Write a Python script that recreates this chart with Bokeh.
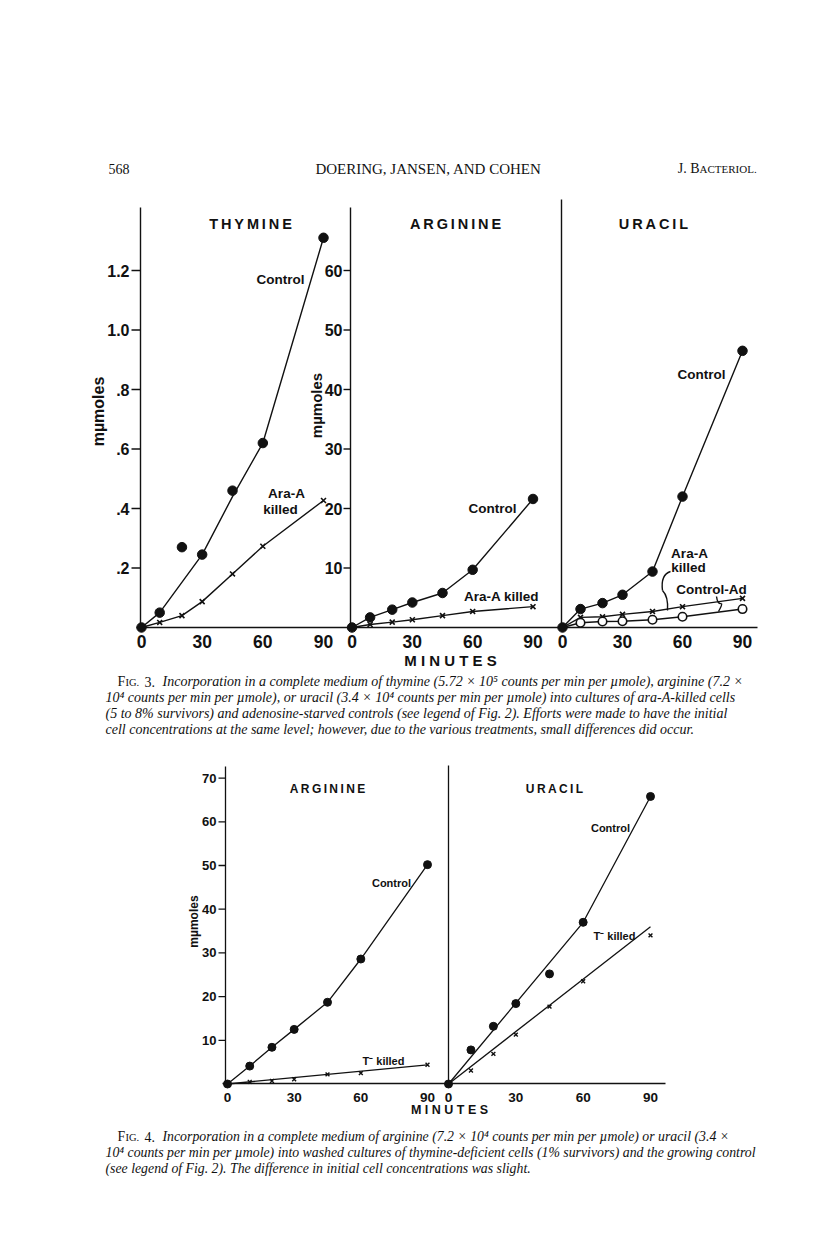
import math
from bokeh.plotting import figure
from bokeh.models import Range1d
from bokeh.embed import file_html
from bokeh.resources import INLINE
from bokeh.core.properties import value

# ---------------- data (read from the scanned page) ----------------
minutes_f3 = [0, 9, 20, 30, 45, 60, 90]
minutes_f4 = [0, 10, 20, 30, 45, 60, 90]

# Fig. 3 - THYMINE (mumoles)
thy_control = [0, 0.05, 0.27, 0.245, 0.46, 0.62, 1.31]
thy_control_curve_t = [0, 9, 30, 45, 60, 90]
thy_control_curve = [0, 0.05, 0.245, 0.44, 0.62, 1.31]
thy_killed = [0, 0.017, 0.04, 0.087, 0.18, 0.273, 0.427]

# Fig. 3 - ARGININE (mumoles)
arg3_control = [0, 1.7, 3.0, 4.2, 5.8, 9.7, 21.6]
arg3_killed = [0, 0.5, 0.9, 1.3, 2.0, 2.7, 3.5]

# Fig. 3 - URACIL (mumoles)
ura3_control = [0, 3.1, 4.1, 5.5, 9.4, 22.0, 46.5]
ura3_killed = [0, 1.7, 1.8, 2.2, 2.7, 3.5, 4.9]
ura3_control_ad = [0, 0.8, 1.0, 1.05, 1.3, 1.8, 3.1]

# Fig. 4 - ARGININE
arg4_control = [0, 4.1, 8.4, 12.5, 18.7, 28.6, 50.2]
arg4_killed = [0, 0.5, 0.7, 1.1, 2.2, 2.5, 4.4]
arg4_killed_line_t = [0, 90]
arg4_killed_line = [0, 4.4]

# Fig. 4 - URACIL
ura4_control = [0, 7.8, 13.2, 18.4, 25.2, 37.0, 65.8]
ura4_control_line_t = [0, 60, 90]
ura4_control_line = [0, 37.0, 65.8]
ura4_killed = [0, 3.1, 6.9, 11.3, 17.7, 23.5, 34.0]
ura4_killed_line_t = [0, 90]
ura4_killed_line = [0, 36.0]

# ticks
minute_ticks = [0, 30, 60, 90]
minute_labels = ["0", "30", "60", "90"]
thy_ticks = [0.2, 0.4, 0.6, 0.8, 1.0, 1.2]
thy_labels = [".2", ".4", ".6", ".8", "1.0", "1.2"]
arg3_ticks = [10, 20, 30, 40, 50, 60]
arg3_labels = ["10", "20", "30", "40", "50", "60"]
f4_ticks = [10, 20, 30, 40, 50, 60, 70]
f4_labels = ["10", "20", "30", "40", "50", "60", "70"]

# ---------------- page figure ----------------
W, H = 800, 1240
OFF = 0
p = figure(width=W, height=H, x_range=Range1d(OFF, OFF + W), y_range=Range1d(OFF + H, OFF),
           output_backend="svg", toolbar_location=None, min_border=0,
           x_axis_location=None, y_axis_location=None)
p.grid.visible = False
p.outline_line_color = None
p.background_fill_color = "white"


def xr(x0, sx):
    return Range1d((OFF - x0) / sx, (OFF + W - x0) / sx)


def yr(y0, sy):
    return Range1d((y0 - (OFF + H)) / sy, (y0 - OFF) / sy)


panels = {
    "f3a": (141, 182 / 90, 627, 297.5),
    "f3b": (351.5, 181 / 90, 627, 5.95),
    "f3c": (562, 2.0, 627, 5.95),
    "f4a": (227, 200 / 90, 1083.5, 4.37),
    "f4b": (448, 202 / 90, 1083.5, 4.37),
}
for k, (x0, sx, y0, sy) in panels.items():
    p.extra_x_ranges[k + "_x"] = xr(x0, sx)
    p.extra_y_ranges[k + "_y"] = yr(y0, sy)

SANS = value("Liberation Sans")
SERIF = value("Liberation Serif")
INK = "#111111"


def txt(x, y, s, size, font=SANS, style="bold", align="center", baseline="middle",
        angle=0.0, xname="default", yname="default"):
    xs = x if isinstance(x, list) else [x]
    ys = y if isinstance(y, list) else [y] * len(xs)
    ss = s if isinstance(s, list) else [s] * len(xs)
    if len(xs) == 1 and len(ys) > 1:
        xs = xs * len(ys)
    p.text(x=xs, y=ys, text=ss, text_font=font, text_font_style=style,
           text_font_size=value(f"{size}px"), text_align=align, text_baseline=baseline,
           text_color=INK, angle=angle, x_range_name=xname, y_range_name=yname)


def spaced(s, sep="\u2009"):
    return sep.join(s)


# ---------------- header ----------------
txt(108, 168, "568", 14, font=SERIF, style="normal", align="left")
txt(428, 168, "DOERING, JANSEN, AND COHEN", 15, font=SERIF, style="normal")
txt(699, 168, "J. B", 14, font=SERIF, style="normal", align="right")
txt(699, 168.5, "ACTERIOL.", 11, font=SERIF, style="normal", align="left")

# ---------------- Fig. 3 axes ----------------
p.segment(x0=[136, 140, 350, 561], y0=[627, 207, 207, 199],
          x1=[757, 140, 350, 561], y1=[627, 627, 627, 627], line_color=INK, line_width=1.4)
p.segment(x0=[131] * 6, x1=[140] * 6, y0=thy_ticks, y1=thy_ticks, line_color=INK,
          line_width=1.4, y_range_name="f3a_y")
p.segment(x0=[343] * 6, x1=[350] * 6, y0=arg3_ticks, y1=arg3_ticks, line_color=INK,
          line_width=1.4, y_range_name="f3b_y")
txt(129, thy_ticks, thy_labels, 16, align="right", yname="f3a_y")
txt(342, arg3_ticks, arg3_labels, 16, align="right", yname="f3b_y")
for k in ("f3a", "f3b", "f3c"):
    txt(minute_ticks, 641, minute_labels, 17.5, xname=k + "_x")
txt(450, 660, spaced("MINUTES", " "), 15)
txt(98, 411, "mµmoles", 16, angle=math.pi / 2)
txt(316, 405, "mµmoles", 15, angle=math.pi / 2)

txt(250, 223, spaced("THYMINE"), 14.5)
txt(455, 223, spaced("ARGININE"), 14.5)
txt(653, 223, spaced("URACIL"), 14.5)


def series(t, v, k, marker, size, lw=1.4, fill=INK, line=True, mlw=1.6):
    xn, yn = k + "_x", k + "_y"
    if line:
        p.line(t, v, line_color=INK, line_width=lw, x_range_name=xn, y_range_name=yn)
    if marker is not None:
        p.scatter(t, v, marker=marker, size=size, fill_color=fill, line_color=INK,
                  line_width=mlw, x_range_name=xn, y_range_name=yn)


# Thymine
series(minutes_f3, thy_killed, "f3a", "x", 7)
series(thy_control_curve_t, thy_control_curve, "f3a", None, 0)
series(minutes_f3, thy_control, "f3a", "circle", 9.5, line=False, mlw=1)
txt(280, 279, "Control", 13.5)
txt(286, 493, "Ara-A", 13.5)
txt(280, 509, "killed", 13.5)

# Arginine
series(minutes_f3, arg3_killed, "f3b", "x", 7)
series(minutes_f3, arg3_control, "f3b", "circle", 9.5, mlw=1)
txt(492, 508, "Control", 13.5)
txt(501, 596, "Ara-A killed", 13.5)

# Uracil
series(minutes_f3, ura3_killed, "f3c", "x", 7)
series(minutes_f3, ura3_control_ad, "f3c", None, 0)
series(minutes_f3[1:], ura3_control_ad[1:], "f3c", "circle", 8.5, fill="white",
       line=False, mlw=1.6)
series(minutes_f3, ura3_control, "f3c", "circle", 9.5, mlw=1)
txt(701, 374, "Control", 13.5)
txt(689, 553, "Ara-A", 13.5)
txt(688, 567, "killed", 13.5)
txt(711, 589, "Control-Ad", 13.5)
p.quadratic(x0=[670, 662], y0=[571, 590], x1=[662, 667], y1=[590, 610],
            cx=[660, 668], cy=[574, 596], line_color=INK, line_width=1.4)
p.quadratic(x0=[716, 721], y0=[596, 603], x1=[721, 718], y1=[603, 611],
            cx=[717, 722], cy=[604, 604], line_color=INK, line_width=1.4)

# Fig. 3 caption
CAP3 = 14
C3 = [681, 697, 713, 729]
txt(117, C3[0], "F", CAP3, font=SERIF, style="normal", align="left")
txt(125, C3[0] + 0.5, "IG.", 10.5, font=SERIF, style="normal", align="left")
txt(144, C3[0], "3.", CAP3, font=SERIF, style="normal", align="left")
txt(162, C3[0], "Incorporation in a complete medium of thymine (5.72 × 10⁵ counts per min per µmole), arginine (7.2 ×",
    CAP3, font=SERIF, style="italic", align="left")
txt(105, C3[1], "10⁴ counts per min per µmole), or uracil (3.4 × 10⁴ counts per min per µmole) into cultures of ara-A-killed cells",
    CAP3, font=SERIF, style="italic", align="left")
txt(105, C3[2], "(5 to 8% survivors) and adenosine-starved controls (see legend of Fig. 2). Efforts were made to have the initial",
    CAP3, font=SERIF, style="italic", align="left")
txt(105, C3[3], "cell concentrations at the same level; however, due to the various treatments, small differences did occur.",
    CAP3, font=SERIF, style="italic", align="left")

# ---------------- Fig. 4 axes ----------------
p.segment(x0=[222, 225, 448], y0=[1083, 766, 765], x1=[665, 225, 448], y1=[1083, 1083, 1083],
          line_color=INK, line_width=1.3)
p.segment(x0=[218] * 7, x1=[225] * 7, y0=f4_ticks, y1=f4_ticks, line_color=INK,
          line_width=1.3, y_range_name="f4a_y")
txt(216, f4_ticks, f4_labels, 13, align="right", yname="f4a_y")
for k in ("f4a", "f4b"):
    txt(minute_ticks, 1096.5, minute_labels, 13.5, xname=k + "_x")
txt(449, 1109, spaced("MINUTES", " "), 12.5)
txt(193, 921, "mµmoles", 12, angle=math.pi / 2)
txt(327, 788, spaced("ARGININE"), 12)
txt(554, 788, spaced("URACIL"), 12)

# Arginine
series(minutes_f4, arg4_killed, "f4a", "x", 5.5, line=False, mlw=1.4)
series(arg4_killed_line_t, arg4_killed_line, "f4a", None, 0, lw=1.3)
series(minutes_f4, arg4_control, "f4a", "circle", 8, lw=1.3, mlw=1)
txt(391, 882, "Control", 11)
txt(383, 1060, "T⁻ killed", 11)

# Uracil
series(minutes_f4, ura4_killed, "f4b", "x", 5.5, line=False, mlw=1.4)
series(ura4_killed_line_t, ura4_killed_line, "f4b", None, 0, lw=1.3)
series(ura4_control_line_t, ura4_control_line, "f4b", None, 0, lw=1.3)
series(minutes_f4, ura4_control, "f4b", "circle", 8, line=False, mlw=1)
txt(610, 827, "Control", 11)
txt(614, 935, "T⁻ killed", 11)

# Fig. 4 caption
CAP4 = 13.8
C4 = [1136, 1152, 1168]
txt(117, C4[0], "F", CAP4, font=SERIF, style="normal", align="left")
txt(125, C4[0] + 0.5, "IG.", 10.5, font=SERIF, style="normal", align="left")
txt(144, C4[0], "4.", CAP4, font=SERIF, style="normal", align="left")
txt(162, C4[0], "Incorporation in a complete medium of arginine (7.2 × 10⁴ counts per min per µmole) or uracil (3.4 ×",
    CAP4, font=SERIF, style="italic", align="left")
txt(105, C4[1], "10⁴ counts per min per µmole) into washed cultures of thymine-deficient cells (1% survivors) and the growing control",
    CAP4, font=SERIF, style="italic", align="left")
txt(105, C4[2], "(see legend of Fig. 2). The difference in initial cell concentrations was slight.",
    CAP4, font=SERIF, style="italic", align="left")

open("out.html", "w").write(file_html(p, INLINE))
